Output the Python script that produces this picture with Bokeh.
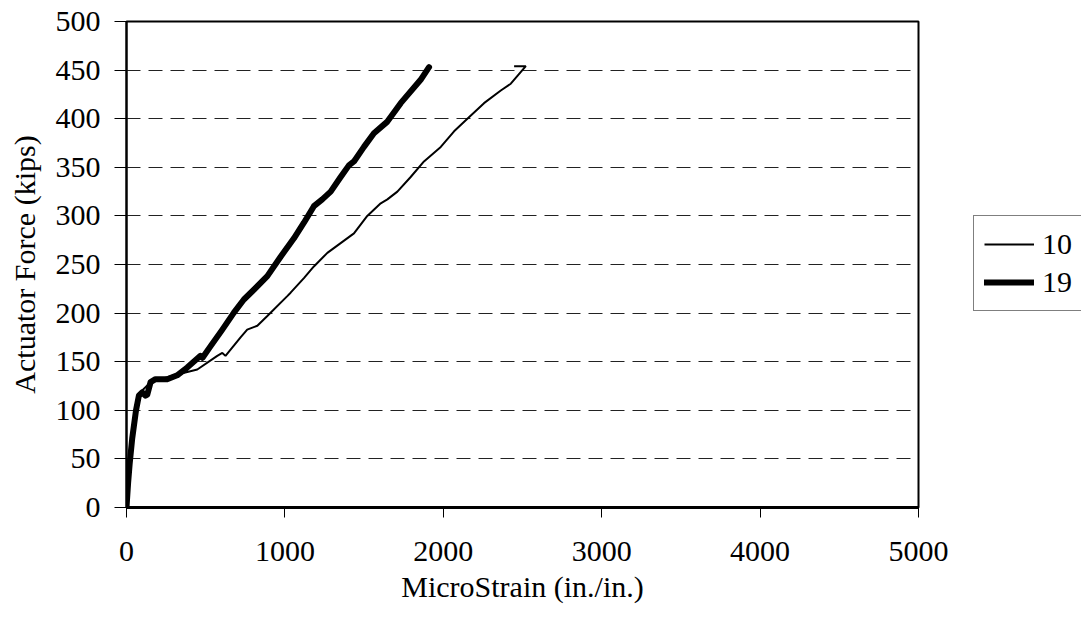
from bokeh.plotting import figure
from bokeh.models import Range1d, FixedTicker, Legend, LegendItem
from bokeh.embed import file_html
from bokeh.resources import INLINE

# Series "10" (thin)
strain_10 = [0, 25, 67, 88, 152, 194, 289, 447, 573, 605, 625, 720, 762, 826, 889,
             1015, 1036, 1120, 1183, 1268, 1352, 1436, 1520, 1605, 1647, 1710, 1794,
             1878, 1984, 2068, 2152, 2257, 2363, 2426, 2521, 2447]
force_10 = [0, 50, 110, 118.5, 129, 131, 135.6, 142, 156, 159, 156, 175, 183, 187, 197,
            217.5, 221, 236, 248, 262, 272, 282, 300, 313, 317, 325, 340,
            356, 371, 387, 400, 416, 429, 436, 454, 454]

# Series "19" (thick)
strain_19 = [0, 10, 20, 36, 60, 78, 99, 120, 131, 152, 183, 257, 320, 383, 467, 480,
             531, 605, 678, 741, 804, 889, 973, 1057, 1120, 1183, 1236, 1289, 1352,
             1404, 1436, 1499, 1562, 1647, 1731, 1857, 1910]
force_19 = [0, 25, 45, 71, 100, 115, 118.5, 115, 116, 129, 132, 132, 136, 144, 156, 154,
            166, 183, 200.5, 214, 224, 238, 258, 277, 293, 310, 317, 325, 340,
            352, 356, 371, 385, 397, 416, 440, 453]

x_ticks = [0, 1000, 2000, 3000, 4000, 5000]
y_ticks = [0, 50, 100, 150, 200, 250, 300, 350, 400, 450, 500]

FONT = "Liberation Serif"

p = figure(frame_width=792, frame_height=486, output_backend="svg", toolbar_location=None,
           x_range=Range1d(0, 5000), y_range=Range1d(0, 500),
           min_border_left=126, min_border_right=147, min_border_top=21, min_border_bottom=106)

r10 = p.line(strain_10, force_10, line_color="black", line_width=2)
r19 = p.line(strain_19, force_19, line_color="black", line_width=6, line_join="round", line_cap="round")

p.xaxis.ticker = FixedTicker(ticks=x_ticks)
p.yaxis.ticker = FixedTicker(ticks=y_ticks)
p.xaxis.axis_label = "MicroStrain (in./in.)"
p.yaxis.axis_label = "Actuator Force (kips)"

for ax in (p.xaxis[0], p.yaxis[0]):
    ax.major_label_text_font = FONT
    ax.major_label_text_font_size = "30px"
    ax.major_label_text_color = "black"
    ax.axis_label_text_font = FONT
    ax.axis_label_text_font_size = "30px"
    ax.axis_label_text_font_style = "normal"
    ax.axis_label_text_color = "black"
    ax.axis_line_color = "black"
    ax.major_tick_line_color = "black"
    ax.major_tick_line_width = 1
    ax.major_tick_in = 0
    ax.minor_tick_line_color = None

p.xaxis.major_tick_out = 10
p.yaxis.major_tick_out = 12
p.xaxis.axis_line_width = 3
p.yaxis.axis_line_width = 2
p.xaxis.major_label_standoff = 24
p.yaxis.major_label_standoff = 14
p.xaxis.axis_label_standoff = 6
p.yaxis.axis_label_standoff = 12

p.xgrid.grid_line_color = None
p.ygrid.grid_line_color = "#222222"
p.ygrid.grid_line_dash = "14 8"
p.ygrid.grid_line_width = 1

p.outline_line_color = "black"
p.outline_line_width = 2
p.background_fill_color = "white"
p.border_fill_color = "white"

legend = Legend(items=[LegendItem(label="10", renderers=[r10]),
                       LegendItem(label="19", renderers=[r19])],
                location=(55, 196))
legend.label_text_font = FONT
legend.label_text_font_size = "30px"
legend.label_text_color = "black"
legend.glyph_width = 50
legend.glyph_height = 36
legend.label_height = 36
legend.label_standoff = 8
legend.spacing = 2
legend.padding = 10
legend.margin = 0
legend.border_line_color = "black"
legend.border_line_width = 1.5
legend.background_fill_color = "white"
legend.background_fill_alpha = 1
p.add_layout(legend, "right")

open("out.html", "w").write(file_html(p, INLINE))
